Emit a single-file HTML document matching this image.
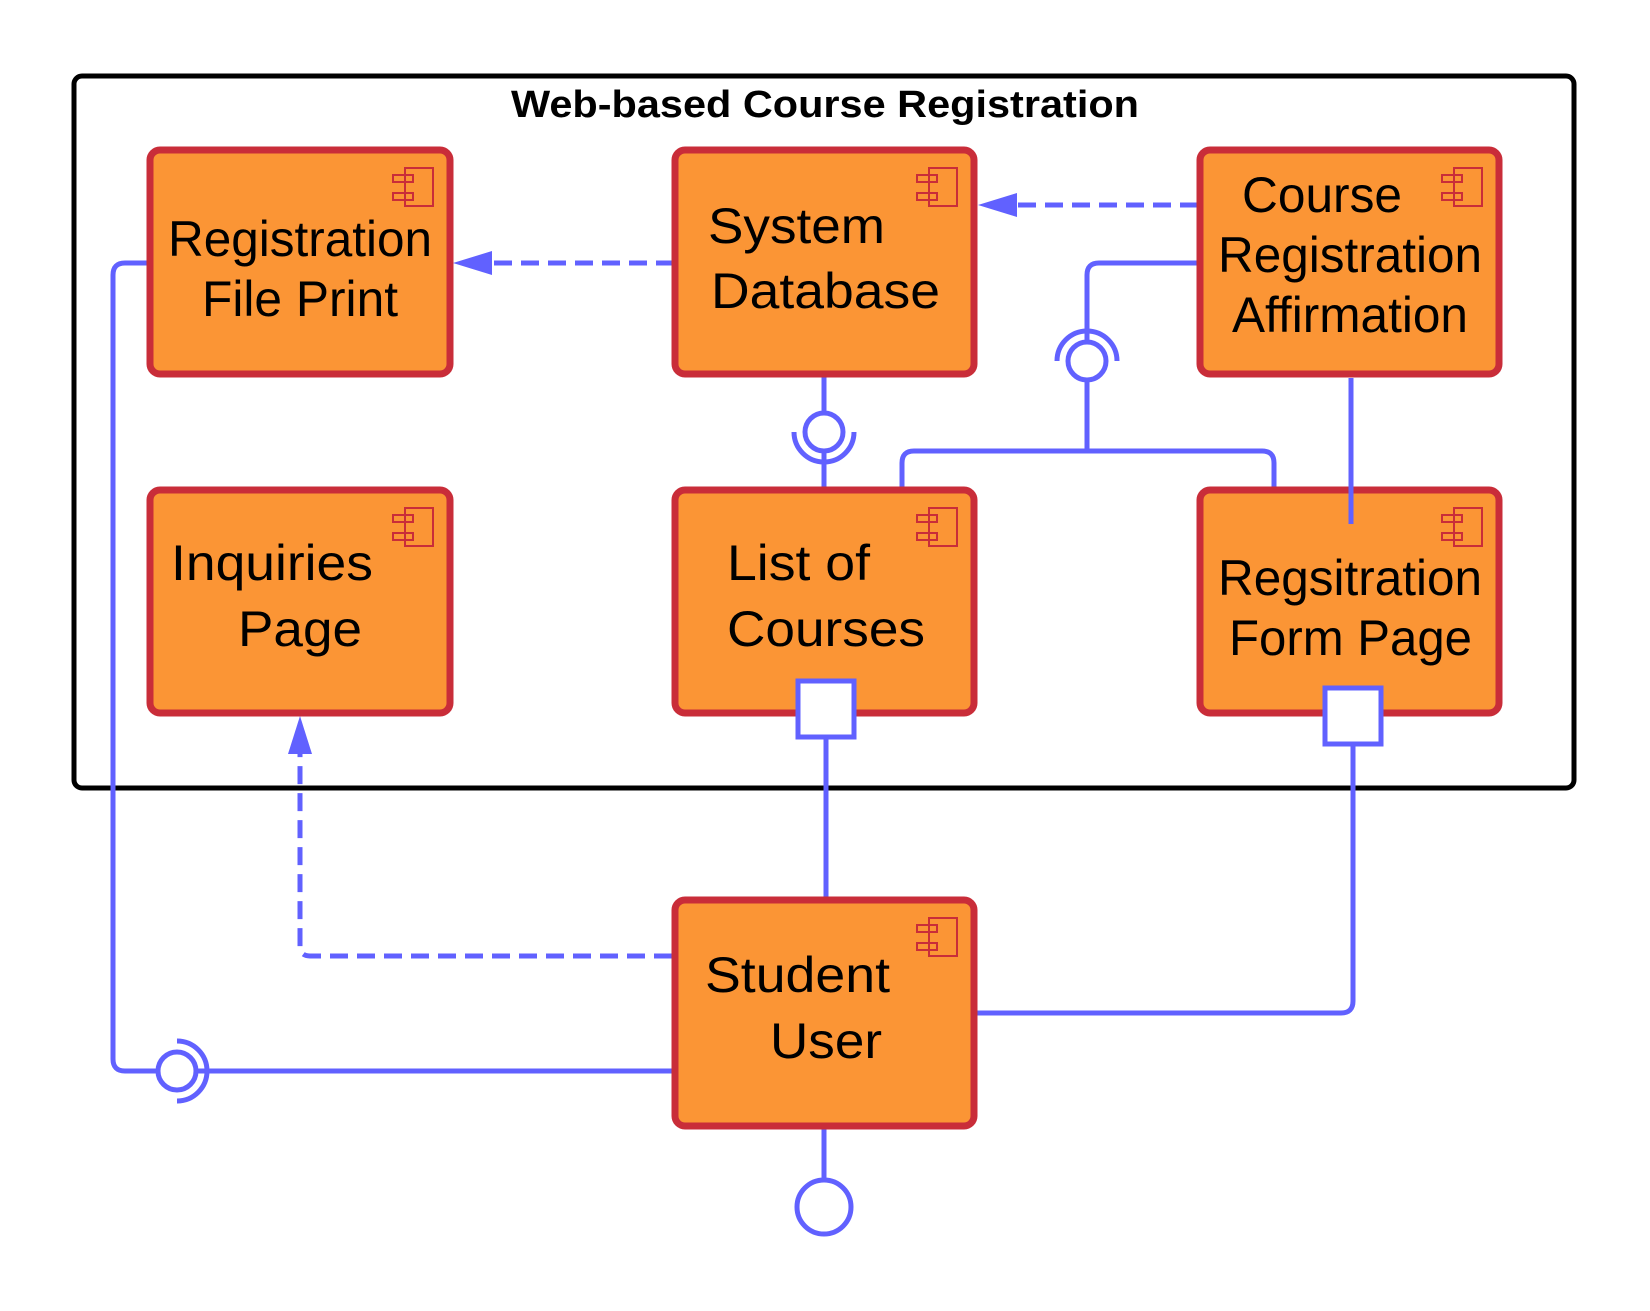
<!DOCTYPE html>
<html><head><meta charset="utf-8"><style>html,body{margin:0;padding:0;background:#fff}svg{display:block}</style></head>
<body>
<svg width="1650" height="1311" viewBox="0 0 1650 1311" xmlns="http://www.w3.org/2000/svg" font-family="Liberation Sans, Arial, sans-serif">
<rect x="74" y="76" width="1500" height="712" rx="8" fill="none" stroke="#000" stroke-width="5"/>
<text x="825" y="117" text-anchor="middle" font-weight="bold" font-size="38" textLength="628" lengthAdjust="spacingAndGlyphs">Web-based Course Registration</text>

<g fill="none" stroke="#6161ff" stroke-width="5">
  <path d="M674 263 H490" stroke-dasharray="18 9"/>
  <path d="M1198 205 H1017" stroke-dasharray="18 9"/>
  <path d="M672 956 H310 Q300 956 300 946 V754" stroke-dasharray="18 9"/>
  <path d="M1198 263 H1099 Q1087 263 1087 275 V341"/>
  <path d="M1087 381 V451"/>
  <path d="M902 487 V463 Q902 451 914 451 H1262 Q1274 451 1274 463 V487"/>
  <path d="M824 377 V412"/>
  <path d="M824 452 V487"/>
  <path d="M826 739 V897"/>
  <path d="M1353 744 V1001 Q1353 1013 1341 1013 H977"/>
  <path d="M147 263 H125 Q113 263 113 275 V1059 Q113 1071 125 1071 H157"/>
  <path d="M197 1071 H672"/>
  <path d="M824 1129 V1179"/>
</g>
<polygon points="453,263 492,251 492,275" fill="#6161ff"/>
<polygon points="978,205 1017,193 1017,217" fill="#6161ff"/>
<polygon points="300,716 288,754 312,754" fill="#6161ff"/>

<g fill="#fb9535" stroke="#c92d39" stroke-width="7">
  <rect x="150" y="150" width="300" height="224" rx="10"/>
  <rect x="675" y="150" width="299" height="224" rx="10"/>
  <rect x="1200" y="150" width="299" height="224" rx="10"/>
  <rect x="150" y="490" width="300" height="223" rx="10"/>
  <rect x="675" y="490" width="299" height="223" rx="10"/>
  <rect x="1200" y="490" width="299" height="223" rx="10"/>
  <rect x="675" y="900" width="299" height="226" rx="10"/>
</g>
<path d="M1351 378 V524" fill="none" stroke="#6161ff" stroke-width="5"/>

<defs>
<g id="ic" fill="none" stroke="#c92d39" stroke-width="2">
  <rect x="12" y="0" width="28" height="38"/>
  <rect x="0" y="7" width="20" height="7"/>
  <rect x="0" y="25" width="20" height="7"/>
</g>
</defs>
<use href="#ic" x="393" y="168"/>
<use href="#ic" x="917" y="168"/>
<use href="#ic" x="1442" y="168"/>
<use href="#ic" x="393" y="508"/>
<use href="#ic" x="917" y="508"/>
<use href="#ic" x="1442" y="508"/>
<use href="#ic" x="917" y="918"/>

<rect x="798" y="681" width="56" height="56" fill="#fff" stroke="#6161ff" stroke-width="5"/>
<rect x="1325" y="688" width="56" height="56" fill="#fff" stroke="#6161ff" stroke-width="5"/>

<g fill="#fff" stroke="#6161ff" stroke-width="5">
  <circle cx="824" cy="432" r="19"/>
  <circle cx="1087" cy="361" r="19"/>
  <circle cx="177" cy="1071" r="19"/>
  <circle cx="824" cy="1207" r="27"/>
</g>
<g fill="none" stroke="#6161ff" stroke-width="5">
  <path d="M794 432 A30 30 0 0 0 854 432"/>
  <path d="M1057 361 A30 30 0 0 1 1117 361"/>
  <path d="M177 1041 A30 30 0 0 1 177 1101"/>
</g>

<g font-size="50" fill="#000">
  <text x="168" y="256" textLength="264" lengthAdjust="spacingAndGlyphs">Registration</text>
  <text x="202" y="316" textLength="196" lengthAdjust="spacingAndGlyphs">File Print</text>
  <text x="708" y="243" textLength="177" lengthAdjust="spacingAndGlyphs">System</text>
  <text x="711" y="308" textLength="229" lengthAdjust="spacingAndGlyphs">Database</text>
  <text x="1242" y="212" textLength="160" lengthAdjust="spacingAndGlyphs">Course</text>
  <text x="1218" y="272" textLength="264" lengthAdjust="spacingAndGlyphs">Registration</text>
  <text x="1232" y="332" textLength="236" lengthAdjust="spacingAndGlyphs">Affirmation</text>
  <text x="171" y="580" textLength="202" lengthAdjust="spacingAndGlyphs">Inquiries</text>
  <text x="238" y="646" textLength="124" lengthAdjust="spacingAndGlyphs">Page</text>
  <text x="727" y="580" textLength="143" lengthAdjust="spacingAndGlyphs">List of</text>
  <text x="727" y="646" textLength="198" lengthAdjust="spacingAndGlyphs">Courses</text>
  <text x="1218" y="595" textLength="264" lengthAdjust="spacingAndGlyphs">Regsitration</text>
  <text x="1229" y="655" textLength="243" lengthAdjust="spacingAndGlyphs">Form Page</text>
  <text x="705" y="992" textLength="185" lengthAdjust="spacingAndGlyphs">Student</text>
  <text x="770" y="1058" textLength="112" lengthAdjust="spacingAndGlyphs">User</text>
</g>
</svg>
</body></html>
